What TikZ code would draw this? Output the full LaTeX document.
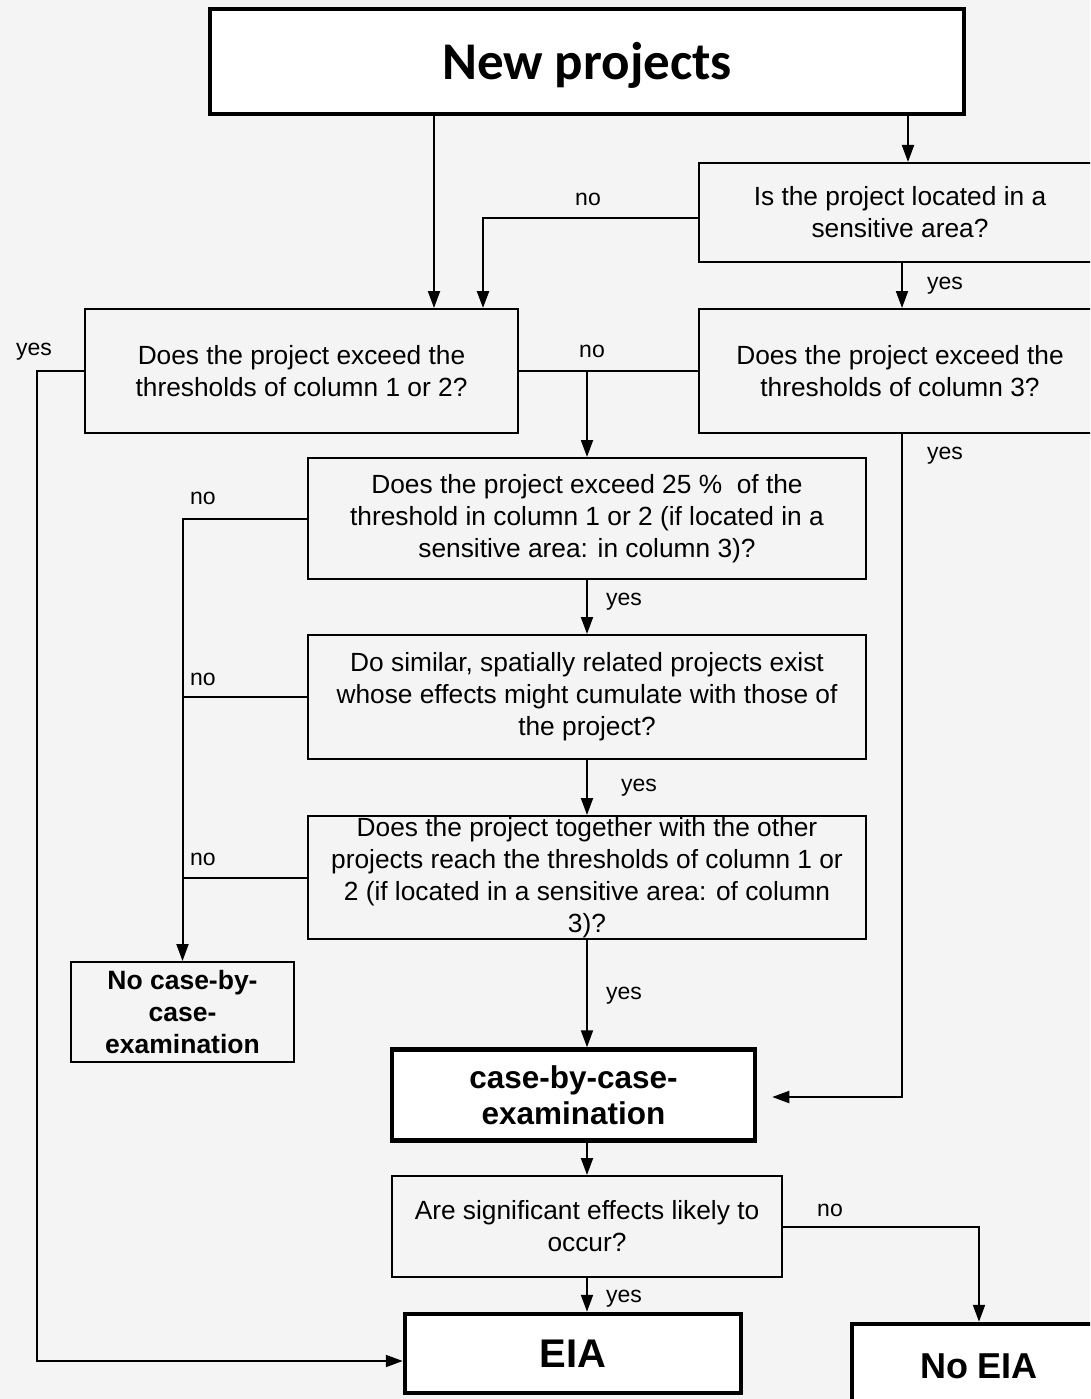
\documentclass[tikz,border=0pt]{standalone}
\usepackage{fontspec}
\setmainfont{Liberation Sans}
\newfontfamily\calfont{Carlito}
\usetikzlibrary{arrows.meta,calc}
\definecolor{bgc}{RGB}{243,244,243}
\begin{document}
\begin{tikzpicture}[x=1pt,y=-1pt,
  qbox/.style={draw=black, line width=2pt, fill=bgc, inner sep=0pt, align=center,
    font=\fontsize{26.3}{32}\selectfont},
  wbox/.style={qbox, fill=white, line width=4.5pt},
  conn/.style={line width=2pt},
  arr/.style={conn, -{Triangle[length=17pt,width=12pt]}},
  lab/.style={font=\fontsize{23}{26}\selectfont, inner sep=0pt}]
\fill[bgc] (0,0) rectangle (1090,1399);
\useasboundingbox (0,0) rectangle (1090,1399);
\clip (0,0) rectangle (1090,1399);

% nodes
\node[wbox, line width=4pt, minimum width=754pt, minimum height=105pt,
  font=\calfont\bfseries\fontsize{53}{60}\selectfont] (np) at (587,61.5) {\raisebox{-18pt}[0pt][0pt]{New projects}};
\node[qbox, minimum width=402pt, minimum height=99pt] (sens) at (900,212.5)
  {Is the project located in a\\sensitive area?};
\node[qbox, minimum width=433pt, minimum height=124pt] (q1) at (301.5,371)
  {Does the project exceed the\\thresholds of column 1 or 2?};
\node[qbox, minimum width=402pt, minimum height=124pt] (q3) at (900,371)
  {Does the project exceed the\\thresholds of column 3?};
\node[qbox, minimum width=558pt, minimum height=121pt] (q25) at (587,518.5)
  {Does the project exceed 25 \%\ \ of the\\threshold in column 1 or 2 (if located in a\\sensitive area: in column 3)?};
\node[qbox, minimum width=558pt, minimum height=124pt] (qsim) at (587,697)
  {Do similar, spatially related projects exist\\whose effects might cumulate with those of\\the project?};
\node[qbox, minimum width=558pt, minimum height=123pt] (qtog) at (587,877.5)
  {Does the project together with the other\\projects reach the thresholds of column 1 or\\2 (if located in a sensitive area: of column\\3)?};
\node[qbox, minimum width=223pt, minimum height=100pt,
  font=\bfseries\fontsize{26.5}{32}\selectfont] (nocase) at (182.5,1012)
  {No case-by-\\case-\\examination};
\node[wbox, minimum width=363pt, minimum height=91pt,
  font=\bfseries\fontsize{31.5}{36}\selectfont] (case) at (573.5,1095)
  {case-by-case-\\examination};
\node[qbox, minimum width=390pt, minimum height=101pt] (qsig) at (587,1226.5)
  {Are significant effects likely to\\occur?};
\node[wbox, minimum width=336pt, minimum height=79pt,
  font=\bfseries\fontsize{40}{44}\selectfont] (eia) at (573,1353.5) {EIA};
\node[wbox, minimum width=254pt, minimum height=84pt,
  font=\bfseries\fontsize{36}{40}\selectfont] (noeia) at (979,1366) {No EIA};

% helper positions
\coordinate (xa) at (434,0);
\coordinate (xb) at (483,0);
\coordinate (xs) at (908,0);
\coordinate (xc) at (902,0);
\coordinate (xl) at (37,0);
\coordinate (eiaw) at ([yshift=-7.5pt]eia.west);
\coordinate (casee) at ([xshift=15pt,yshift=-2pt]case.east);

% connectors
\draw[arr] (np.south -| xa) -- (q1.north -| xa);
\draw[arr] (np.south -| xs) -- (sens.north -| xs);
\draw[arr, line width=2.5pt] ([yshift=-5.5pt]sens.west) -| (q1.north -| xb);
\draw[arr] (sens.south -| xc) -- (q3.north -| xc);
\draw[conn] (q1.east) -- (q3.west);
\draw[arr] (q1.east -| q25.north) -- (q25.north);
\draw[arr] (q1.west) -| (xl |- eiaw) -- (eiaw);
\draw[arr] (q3.south -| xc) |- (casee);
\draw[arr] (q25.west) -| (nocase.north);
\draw[conn] (qsim.west) -- (qsim.west -| nocase.north);
\draw[conn] (qtog.west) -- (qtog.west -| nocase.north);
\draw[arr] (q25.south) -- (qsim.north);
\draw[arr] (qsim.south) -- (qtog.north);
\draw[arr] (qtog.south) -- (qtog.south |- case.north);
\draw[arr] (case.south -| qsig.north) -- (qsig.north);
\draw[arr] (qsig.south) -- (qsig.south |- eia.north);
\draw[arr] (qsig.east) -| (noeia.north);

% labels
\node[lab] (l1) at (588,199) {no};
\node[lab] (l2) at (945,286) {yes};
\node[lab] (l3) at (592,351) {no};
\node[lab] (l4) at (34,352) {yes};
\node[lab] (l5) at (945,456) {yes};
\node[lab] (l6) at (203,498) {no};
\node[lab] (l7) at (624,602) {yes};
\node[lab] (l8) at (203,679) {no};
\node[lab] (l9) at (639,788) {yes};
\node[lab] (l10) at (203,859) {no};
\node[lab] (l11) at (624,996) {yes};
\node[lab] (l12) at (830,1210) {no};
\node[lab] (l13) at (624,1299) {yes};
\end{tikzpicture}
\end{document}
